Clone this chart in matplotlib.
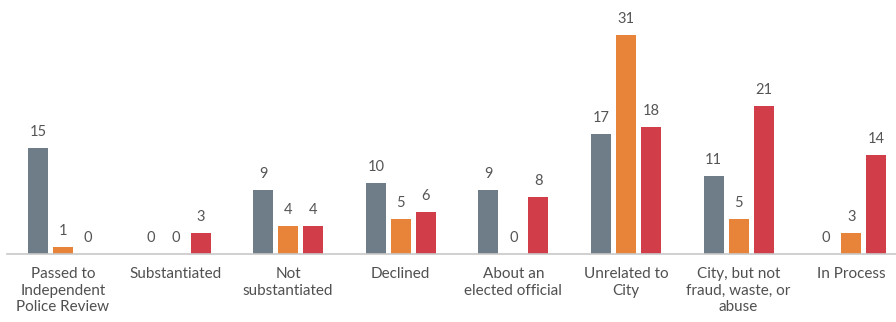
import matplotlib
matplotlib.use("Agg")
import matplotlib.pyplot as plt
import numpy as np

categories = [
    "Passed to\nIndependent\nPolice Review",
    "Substantiated",
    "Not\nsubstantiated",
    "Declined",
    "About an\nelected official",
    "Unrelated to\nCity",
    "City, but not\nfraud, waste, or\nabuse",
    "In Process",
]
series_gray = [15, 0, 9, 10, 9, 17, 11, 0]
series_orange = [1, 0, 4, 5, 0, 31, 5, 3]
series_red = [0, 3, 4, 6, 8, 18, 21, 14]

colors = ["#6f7d88", "#e8833a", "#d13d49"]

plt.rcParams['font.family'] = ['Lato', 'DejaVu Sans']

W, H = 896, 322
fig = plt.figure(figsize=(W / 100, H / 100), dpi=100)
base_px = 68
ax = fig.add_axes([0, base_px / H, 1, (H - base_px) / H])

step = 112.6
x0 = 63
ax.set_xlim(-x0 / step, (W - x0) / step)
ax.set_ylim(0, (H - base_px) / 7.07)

x = np.arange(len(categories))
w = 20 / step
off = 25 / step
for i, (vals, c) in enumerate(zip([series_gray, series_orange, series_red], colors)):
    pos = x + (i - 1) * off
    ax.bar(pos, vals, width=w, color=c)
    for p, v in zip(pos, vals):
        ax.annotate(str(v), (p, v), xytext=(0, 6.5), textcoords="offset points",
                    ha="center", va="bottom", fontsize=10.5, color="#555555")

ax.plot([7 / step - x0 / step, (W - x0) / step], [0, 0], color="#c8c8c8", lw=1.2,
        clip_on=False)

for xi, lab in zip(x, categories):
    ax.text(xi, -1.9, lab, ha="center", va="top", fontsize=11, color="#505050",
            linespacing=1.2)

ax.axis("off")
fig.savefig("out.png", dpi=100)
